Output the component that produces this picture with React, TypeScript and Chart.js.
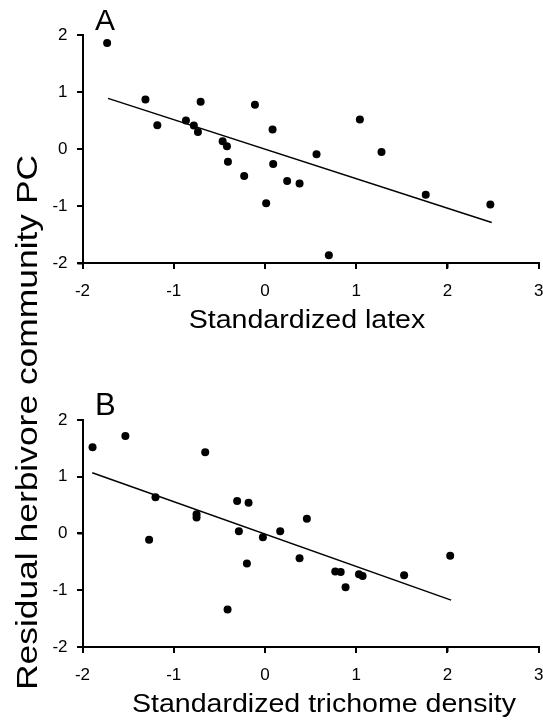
import React, { useEffect, useRef } from 'react';
import { Chart, registerables } from 'chart.js';

Chart.register(...registerables);

// Panel A: standardized latex vs residual herbivore community PC
const latexX = [-1.73, -1.31, -1.18, -0.705, -0.866, -0.78, -0.735, -0.464, -0.417, -0.406, -0.11, -0.228, 0.013, 0.083, 0.09, 0.243, 0.379, 0.565, 0.7, 1.04, 1.277, 1.762, 2.47];
const latexY = [1.86, 0.87, 0.42, 0.83, 0.5, 0.415, 0.3, 0.14, 0.05, -0.22, 0.78, -0.47, -0.95, 0.345, -0.26, -0.556, -0.6, -0.09, -1.86, 0.52, -0.05, -0.8, -0.97];
const latexFitX = [-1.72, 2.485];
const latexFitY = [0.89, -1.286];

// Panel B: standardized trichome density vs residual herbivore community PC
const trichomeX = [-1.89, -1.53, -1.2, -1.27, -0.75, -0.75, -0.655, -0.305, -0.18, -0.286, -0.198, -0.41, -0.023, 0.167, 0.459, 0.379, 0.77, 0.83, 0.883, 1.03, 1.07, 1.525, 2.03];
const trichomeY = [1.52, 1.72, 0.64, -0.11, 0.34, 0.28, 1.43, 0.57, 0.54, 0.04, -0.53, -1.34, -0.065, 0.04, 0.26, -0.435, -0.67, -0.68, -0.947, -0.72, -0.75, -0.735, -0.395];
const trichomeFitX = [-1.893, 2.04];
const trichomeFitY = [1.07, -1.176];

const xTickValues = [-2, -1, 0, 1, 2, 3];
const yTickValues = [-2, -1, 0, 1, 2];
const panelLetters = ['A', 'B'];
const xTitles = ['Standardized latex', 'Standardized trichome density'];
const yTitle = 'Residual herbivore community PC';

const FONT = '"Liberation Sans", Arial, Helvetica, sans-serif';
const TICK_LEN = 5;
const AXIS_W = 2;

function pts(xs: number[], ys: number[]) {
  return xs.map((x, i) => ({ x, y: ys[i] }));
}

function drawStretched(ctx: CanvasRenderingContext2D, text: string, x: number, y: number, size: number, sx: number, rot: number, align: CanvasTextAlign) {
  ctx.save();
  ctx.translate(x, y);
  if (rot) ctx.rotate(rot);
  ctx.scale(sx, 1);
  ctx.font = `${size}px ${FONT}`;
  ctx.fillStyle = '#000';
  ctx.textAlign = align;
  ctx.textBaseline = 'alphabetic';
  ctx.fillText(text, 0, 0);
  ctx.restore();
}

// Axis lines and tick marks, positioned through the chart's own scales
function drawAxes(chart: any) {
  const ctx = chart.ctx as CanvasRenderingContext2D;
  const xs = chart.scales.x;
  const ys = chart.scales.y;
  const left = Math.round(chart.chartArea.left);
  const bottom = Math.round(chart.chartArea.bottom);
  const top = Math.round(ys.getPixelForValue(yTickValues[yTickValues.length - 1]));
  const right = Math.round(xs.getPixelForValue(xTickValues[xTickValues.length - 1]));
  ctx.save();
  ctx.fillStyle = '#000000';
  ctx.fillRect(left - 1, top, AXIS_W, bottom - top + 1);
  ctx.fillRect(left - 1, bottom - 1, right - left + 2, AXIS_W);
  for (const v of yTickValues) {
    const y = Math.round(ys.getPixelForValue(v));
    ctx.fillRect(left - 1 - TICK_LEN, y - 1, TICK_LEN + 1, 2);
  }
  for (const v of xTickValues) {
    const x = Math.round(xs.getPixelForValue(v));
    ctx.fillRect(x - 1, bottom, 2, TICK_LEN + 1);
  }
  ctx.restore();
}

function makeConfig(xs: number[], ys: number[], fx: number[], fy: number[], padding: any, draw: (ctx: CanvasRenderingContext2D) => void): any {
  return {
    type: 'scatter',
    data: {
      datasets: [
        {
          data: pts(xs, ys),
          pointRadius: 4,
          pointBackgroundColor: '#000',
          pointBorderWidth: 0,
          pointBorderColor: '#000',
          showLine: false,
        },
        {
          data: pts(fx, fy),
          showLine: true,
          pointRadius: 0,
          borderColor: '#000',
          borderWidth: 1.5,
          fill: false,
        },
      ],
    },
    options: {
      animation: false,
      responsive: false,
      layout: { padding },
      plugins: { legend: { display: false }, tooltip: { enabled: false } },
      scales: {
        x: {
          type: 'linear',
          min: -2,
          max: 3,
          afterBuildTicks: (s: any) => { s.ticks = xTickValues.map((v) => ({ value: v })); },
          afterFit: (s: any) => { s.height = 40; s.paddingLeft = 0; s.paddingRight = 0; },
          grid: { display: true, drawOnChartArea: false, drawTicks: true, tickLength: TICK_LEN, color: '#000000', lineWidth: 1.5 },
          border: { display: true, color: '#000000', width: 2 },
          ticks: { color: '#000', padding: 13, maxRotation: 0, font: { family: FONT, size: 17 } },
        },
        y: {
          type: 'linear',
          min: -2,
          max: 2,
          afterBuildTicks: (s: any) => { s.ticks = yTickValues.map((v) => ({ value: v })); },
          afterFit: (s: any) => { s.width = 82.5; s.paddingTop = 0; s.paddingBottom = 0; },
          grid: { display: true, drawOnChartArea: false, drawTicks: true, tickLength: TICK_LEN, color: '#000000', lineWidth: 1.5 },
          border: { display: true, color: '#000000', width: 2 },
          ticks: { color: '#000', padding: 10, font: { family: FONT, size: 17 } },
        },
      },
    },
    plugins: [
      {
        id: 'panelText',
        afterDraw(chart: any) {
          const ctx = chart.ctx as CanvasRenderingContext2D;
          ctx.save();
          draw(ctx);
          ctx.restore();
          drawAxes(chart);
        },
      },
    ],
  };
}

export default function App() {
  const refA = useRef<HTMLCanvasElement>(null);
  const refB = useRef<HTMLCanvasElement>(null);

  useEffect(() => {
    const chartA = new Chart(
      refA.current!,
      makeConfig(latexX, latexY, latexFitX, latexFitY, { top: 35, left: 0, right: 4.3, bottom: 720 - 263.3 - 40 }, (ctx) => {
        drawStretched(ctx, panelLetters[0], 95, 30, 30, 1, 0, 'left');
        drawStretched(ctx, xTitles[0], 307, 327.5, 25.5, 1.12, 0, 'center');
        drawStretched(ctx, yTitle, 36.5, 422.5, 30, 1.18, -Math.PI / 2, 'center');
      })
    );
    const chartB = new Chart(
      refB.current!,
      makeConfig(trichomeX, trichomeY, trichomeFitX, trichomeFitY, { top: 60, left: 0, right: 4.3, bottom: 360 - 286.9 - 40 }, (ctx) => {
        drawStretched(ctx, panelLetters[1], 95, 55, 31, 1, 0, 'left');
        drawStretched(ctx, xTitles[1], 324, 351.5, 25.5, 1.12, 0, 'center');
      })
    );
    return () => {
      chartA.destroy();
      chartB.destroy();
    };
  }, []);

  return (
    <div style={{ position: 'fixed', left: 0, top: 0, width: 543, height: 720, background: '#fff' }}>
      <canvas ref={refA} width={543} height={720} style={{ position: 'absolute', left: 0, top: 0, width: 543, height: 720 }} />
      <canvas ref={refB} width={543} height={360} style={{ position: 'absolute', left: 0, top: 360, width: 543, height: 360 }} />
    </div>
  );
}
